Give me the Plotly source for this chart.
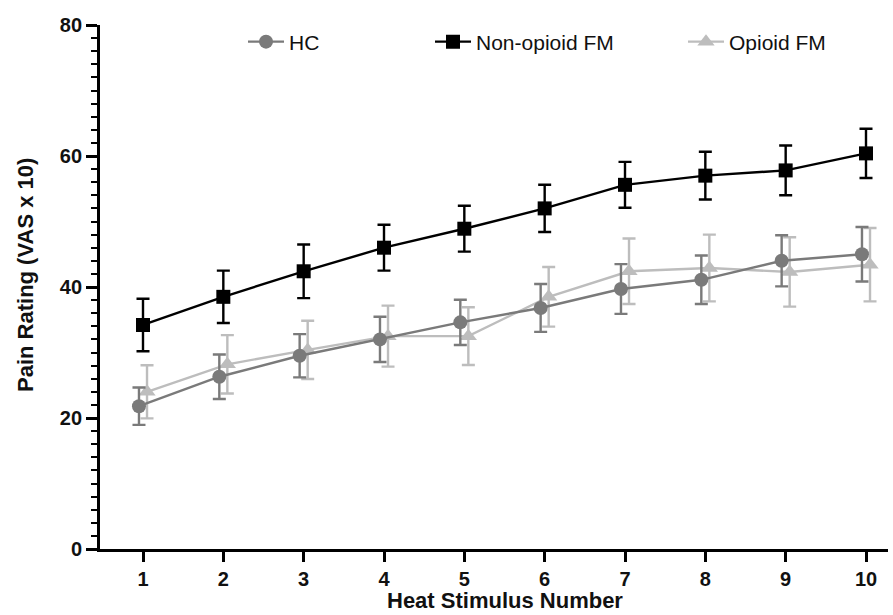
import numpy as np
import plotly.graph_objects as go

stimulus = [1, 2, 3, 4, 5, 6, 7, 8, 9, 10]

hc_mean = [21.8, 26.3, 29.5, 32.0, 34.6, 36.8, 39.7, 41.1, 44.0, 45.0]
hc_err = [2.85, 3.4, 3.3, 3.45, 3.45, 3.65, 3.8, 3.7, 3.9, 4.15]

nonop_mean = [34.2, 38.5, 42.4, 46.0, 48.9, 52.0, 55.6, 57.0, 57.8, 60.4]
nonop_err = [4.0, 4.0, 4.1, 3.5, 3.5, 3.6, 3.5, 3.65, 3.8, 3.75]

op_mean = [24.0, 28.2, 30.4, 32.5, 32.5, 38.5, 42.4, 42.9, 42.3, 43.4]
op_err = [4.05, 4.45, 4.45, 4.65, 4.4, 4.55, 5.0, 5.1, 5.3, 5.6]

x_ticks = stimulus

FONT = "Liberation Sans, Arial, sans-serif"

series = [
    ("HC", hc_mean, hc_err, "#7a7a7a", "circle", -0.05, "legend"),
    ("Non-opioid FM", nonop_mean, nonop_err, "#000000", "square", 0.0, "legend2"),
    ("Opioid FM", op_mean, op_err, "#bdbdbd", "triangle-up", 0.05, "legend3"),
]

fig = go.Figure()
for name, mean, err, color, sym, off, leg in [series[2], series[0], series[1]]:
    xs = np.array(stimulus, dtype=float) + off
    fig.add_trace(go.Scatter(
        x=xs, y=mean, name=name, mode="lines+markers",
        line=dict(color=color, width=2.4),
        marker=dict(symbol=sym, size=14 if sym != "triangle-up" else 15, color=color,
                    line=dict(width=0)),
        error_y=dict(type="data", array=err, visible=True, color=color,
                     thickness=2.4, width=6.5),
        legend=leg,
    ))

legend_common = dict(orientation="h", yanchor="middle", y=1.0 - (42 - 25) / 524,
                     xanchor="left", font=dict(family=FONT, size=21, color="#111"),
                     bgcolor="rgba(0,0,0,0)", itemwidth=36)

fig.update_layout(
    width=893, height=615,
    margin=dict(l=100, r=5, t=25, b=66),
    plot_bgcolor="white", paper_bgcolor="white",
    showlegend=True,
    legend=dict(legend_common, x=(243 - 100) / 788),
    legend2=dict(legend_common, x=(430 - 100) / 788),
    legend3=dict(legend_common, x=(683 - 100) / 788),
    xaxis=dict(
        range=[1 - 43 / 80.33, 10 + 22 / 80.33],
        tickvals=x_ticks, ticktext=[str(v) for v in x_ticks],
        showgrid=False, zeroline=False,
        showline=True, linecolor="black", linewidth=2.8,
        ticks="outside", ticklen=10, tickwidth=2.8, tickcolor="black",
        tickfont=dict(family=FONT, size=20, color="#111", weight="bold"),
    ),
    yaxis=dict(
        range=[0, 80],
        tick0=0, dtick=20,
        showgrid=False, zeroline=False,
        showline=True, linecolor="black", linewidth=2.8,
        ticks="outside", ticklen=11, tickwidth=2.8, tickcolor="black",
        tickfont=dict(family=FONT, size=20, color="#111", weight="bold"),
        minor=dict(dtick=2, ticks="outside", ticklen=6, tickwidth=2.2, tickcolor="black"),
    ),
    annotations=[
        dict(text="<b>Heat Stimulus Number</b>", xref="paper", yref="paper",
             x=(505 - 100) / 788, y=-(600 - 549) / 524, xanchor="center", yanchor="middle",
             showarrow=False, font=dict(family=FONT, size=22, color="#111")),
        dict(text="<b>Pain Rating (VAS x 10)</b>", xref="paper", yref="paper",
             x=-(100 - 25) / 788, y=(549 - 275) / 524, xanchor="center", yanchor="middle",
             textangle=-90, showarrow=False, font=dict(family=FONT, size=22, color="#111")),
    ],
)

fig.write_html("out.html")
